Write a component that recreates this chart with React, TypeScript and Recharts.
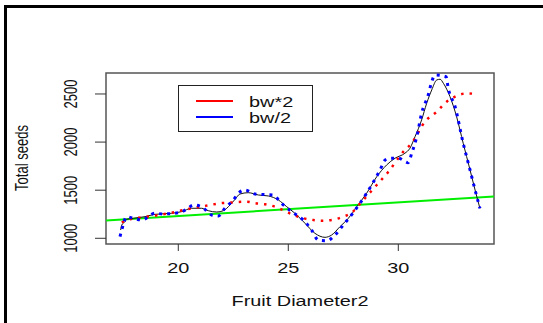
import {
  ComposedChart,
  Line,
  XAxis,
  YAxis,
  ReferenceArea,
  Legend,
} from 'recharts';

// kernel smooth (default bandwidth)
const fitX = [17.38, 17.43, 17.58, 17.65, 17.95, 18.49, 18.94, 19.7, 20.15, 20.61, 21.06, 21.36, 21.75, 22.05, 22.35, 22.58, 22.8, 23.18, 23.64, 24.09, 24.55, 24.93, 25.3, 25.76, 26.21, 26.67, 26.97, 27.35, 27.73, 28.11, 28.56, 29.02, 29.47, 29.85, 30.3, 30.53, 30.76, 31.06, 31.29, 31.52, 31.75, 31.9, 32.05, 32.35, 32.65, 32.95, 33.26, 33.49, 33.71];
const fitY = [1086, 1138, 1173, 1197, 1208, 1225, 1249, 1260, 1277, 1312, 1312, 1287, 1273, 1287, 1346, 1405, 1460, 1474, 1450, 1440, 1398, 1328, 1260, 1156, 1052, 1010, 1034, 1121, 1208, 1328, 1468, 1640, 1762, 1832, 1884, 1936, 2056, 2230, 2403, 2542, 2646, 2653, 2611, 2472, 2264, 1988, 1711, 1502, 1312];

// bw*2
const wideX = [17.43, 17.8, 18.86, 19.7, 20.38, 21.44, 21.9, 22.27, 23.11, 23.49, 23.94, 24.4, 25.0, 25.53, 26.14, 26.52, 26.97, 27.5, 27.88, 28.34, 29.02, 29.55, 30.23, 30.61, 31.21, 31.75, 32.2, 32.58, 33.11, 33.49];
const wideY = [1166, 1197, 1232, 1266, 1301, 1346, 1364, 1370, 1380, 1364, 1353, 1328, 1266, 1218, 1190, 1183, 1190, 1225, 1266, 1380, 1554, 1692, 1900, 1988, 2212, 2316, 2420, 2472, 2507, 2500];

// bw/2
const narrowX = [17.35, 17.43, 17.65, 17.95, 18.34, 18.94, 19.32, 20.0, 20.38, 20.68, 21.06, 21.52, 21.82, 22.12, 22.5, 22.73, 23.03, 23.49, 24.32, 24.62, 25.15, 25.68, 26.06, 26.36, 26.75, 27.12, 27.5, 27.95, 28.56, 29.17, 29.4, 29.62, 30.0, 30.45, 30.61, 30.84, 31.06, 31.36, 31.52, 31.67, 32.17, 32.27, 32.58, 32.95, 33.26, 33.49, 33.71];
const narrowY = [1017, 1086, 1225, 1208, 1190, 1260, 1253, 1266, 1301, 1346, 1328, 1242, 1232, 1312, 1398, 1468, 1502, 1460, 1450, 1380, 1277, 1190, 1086, 982, 975, 1034, 1138, 1266, 1468, 1710, 1814, 1832, 1832, 1786, 1884, 2056, 2299, 2490, 2628, 2697, 2680, 2559, 2368, 1988, 1711, 1502, 1312];

// linear fit (abline)
const lmX = [16.714, 34.35];
const lmY = [1185, 1435];

const xTicks = [20, 25, 30];
const yTicks = [1000, 1500, 2000, 2500];
const xDomain = [16.714, 34.35];
const yDomain = [940.7, 2718];

const legendItems = [
  { label: 'bw*2', color: '#ff0000' },
  { label: 'bw/2', color: '#0000ff' },
];

const zip = (xs: number[], ys: number[]) => xs.map((x, i) => ({ x, y: ys[i] }));

const FONT = '"Liberation Sans", Arial, sans-serif';
const STRETCH = 1.42;

const XTick = ({ x, payload }: any) => (
  <g transform={`translate(${x},273) scale(${STRETCH},1)`}>
    <text textAnchor="middle" fontSize={14} fill="#111" fontFamily={FONT}>
      {payload.value}
    </text>
  </g>
);

const YTick = ({ y, payload }: any) => (
  <g transform={`translate(77,${y}) scale(${STRETCH},1) rotate(-90)`}>
    <text textAnchor="middle" fontSize={13} fill="#111" fontFamily={FONT}>
      {payload.value}
    </text>
  </g>
);

const LegendBox = () => (
  <svg width={136} height={48}>
    <rect x={0.5} y={0.5} width={134} height={46} fill="#fff" stroke="#222" strokeWidth={1} />
    {legendItems.map((item, i) => (
      <g key={item.label}>
        <line x1={18} x2={55} y1={16 + i * 16} y2={16 + i * 16} stroke={item.color} strokeWidth={2} />
        <g transform={`translate(71,${22 + i * 16}) scale(${STRETCH},1)`}>
          <text fontSize={14} fill="#111" fontFamily={FONT}>
            {item.label}
          </text>
        </g>
      </g>
    ))}
  </svg>
);

export default function App() {
  return (
    <div style={{ position: 'absolute', left: 0, top: 0, width: 543, height: 323, overflow: 'hidden', background: '#fff' }}>
      <div
        style={{
          position: 'absolute',
          left: 4,
          top: 5,
          width: 600,
          height: 400,
          borderTop: '3px solid #000',
          borderLeft: '3px solid #000',
        }}
      />
      <ComposedChart
        width={543}
        height={323}
        margin={{ top: 73, right: 49, bottom: 49, left: 0 }}
        style={{ position: 'absolute', left: 0, top: 0 }}
      >
        <XAxis
          type="number"
          dataKey="x"
          domain={xDomain}
          ticks={xTicks}
          allowDataOverflow
          axisLine={false}
          tickSize={7}
          tickLine={{ stroke: '#333' }}
          tick={<XTick />}
          height={30}
        />
        <YAxis
          type="number"
          dataKey="y"
          domain={yDomain}
          ticks={yTicks}
          allowDataOverflow
          axisLine={false}
          tickSize={11}
          tickLine={{ stroke: '#333' }}
          tick={<YTick />}
          width={106}
        />
        <ReferenceArea
          x1={xDomain[0]}
          x2={xDomain[1]}
          y1={yDomain[0]}
          y2={yDomain[1]}
          fill="none"
          fillOpacity={0}
          stroke="#555"
          strokeWidth={1.5}
          ifOverflow="visible"
        />
        <Legend
          layout="horizontal"
          verticalAlign="middle"
          align="center"
          content={<LegendBox />}
          wrapperStyle={{ position: 'absolute', left: 178, top: 85, width: 136, height: 48 }}
        />
        <Line data={zip(lmX, lmY)} dataKey="y" type="linear" stroke="#00ee00" strokeWidth={2} dot={false} isAnimationActive={false} legendType="none" />
        <Line data={zip(fitX, fitY)} dataKey="y" type="monotone" stroke="#111" strokeWidth={1} dot={false} isAnimationActive={false} legendType="none" />
        <Line data={zip(wideX, wideY)} dataKey="y" type="monotone" stroke="#ff0000" strokeWidth={2.5} strokeDasharray="2.5 6" dot={false} isAnimationActive={false} />
        <Line data={zip(narrowX, narrowY)} dataKey="y" type="monotone" stroke="#0000ff" strokeWidth={3} strokeDasharray="3 5" dot={false} isAnimationActive={false} />
      </ComposedChart>
      <div
        style={{
          position: 'absolute',
          left: 22,
          top: 158,
          transform: `translate(-50%,-50%) scale(${STRETCH},1) rotate(-90deg)`,
          fontFamily: FONT,
          fontSize: 13,
          color: '#111',
          whiteSpace: 'nowrap',
        }}
      >
        Total seeds
      </div>
      <div
        style={{
          position: 'absolute',
          left: 300,
          top: 301,
          transform: `translate(-50%,-50%) scale(${STRETCH},1)`,
          fontFamily: FONT,
          fontSize: 14,
          color: '#111',
          whiteSpace: 'nowrap',
        }}
      >
        Fruit Diameter2
      </div>
    </div>
  );
}
